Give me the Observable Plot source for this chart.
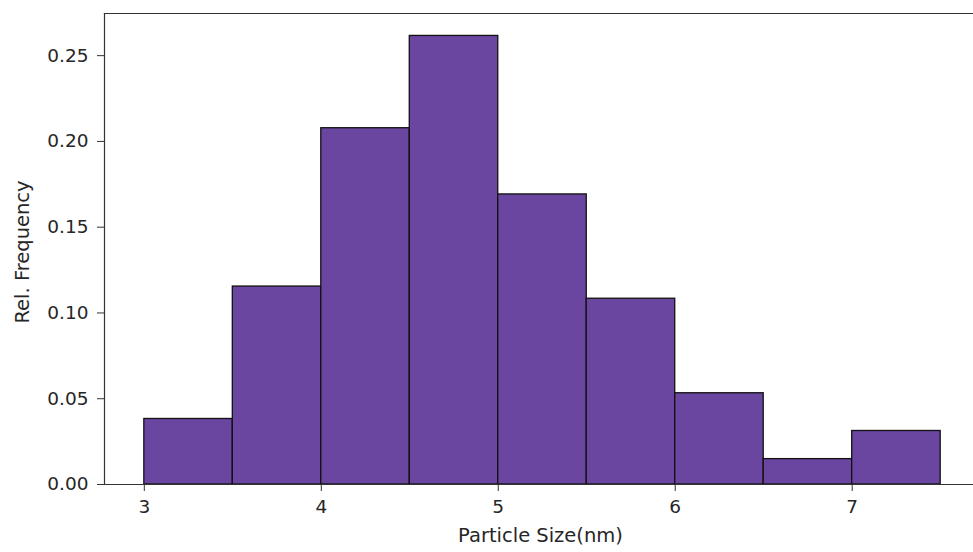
<!DOCTYPE html>
<html>
<head>
<meta charset="utf-8">
<script src="https://cdn.jsdelivr.net/npm/d3@7"></script>
<script src="https://cdn.jsdelivr.net/npm/@observablehq/plot@0.6"></script>
<style>
  html, body { margin: 0; padding: 0; background: #fff; overflow: hidden; }
  #chart svg { display: block; max-width: none !important; width: 980px; height: 552px; }
</style>
</head>
<body>
<div id="chart"></div>
<script>
const binStarts = [3.0, 3.5, 4.0, 4.5, 5.0, 5.5, 6.0, 6.5, 7.0];
const binWidth = 0.5;
const relFreq = [0.0382, 0.1154, 0.2077, 0.2615, 0.1691, 0.1083, 0.0532, 0.0148, 0.0312];
const xTicks = [3, 4, 5, 6, 7];
const yTicks = [0, 0.05, 0.10, 0.15, 0.20, 0.25];
const xLabel = "Particle Size(nm)";
const yLabel = "Rel. Frequency";

const bins = binStarts.map((s, i) => ({x1: s, x2: s + binWidth, y: relFreq[i]}));
const xMin = binStarts[0], xMax = binStarts[binStarts.length - 1] + binWidth;
const xPad = (xMax - xMin) * 0.05;
const yMax = d3.max(relFreq) * 1.05;

const spine = "#333";
const fs = 18.5;
const chart = Plot.plot({
  width: 980,
  height: 552,
  marginLeft: 104,
  marginRight: 0,
  marginTop: 13,
  marginBottom: 68,
  style: {fontFamily: "DejaVu Sans", fontSize: fs + "px", color: "#262626", background: "#fff", maxWidth: "none"},
  x: {domain: [xMin - xPad, xMax + xPad], ticks: xTicks, label: null},
  y: {domain: [0, yMax], ticks: yTicks, label: null},
  marks: [
    Plot.rectY(bins, {x1: "x1", x2: "x2", y: "y", fill: "#6b46a0", stroke: "#111", strokeWidth: 1.3}),
    Plot.axisX({ticks: xTicks, tickSize: 7, tickPadding: 8, tickFormat: d3.format("d"), fontSize: fs, label: null, stroke: spine}),
    Plot.axisY({ticks: yTicks, tickSize: 7, tickPadding: 9, tickFormat: d3.format(".2f"), fontSize: fs, label: null, stroke: spine}),
    Plot.frame({anchor: "left", stroke: spine, strokeWidth: 1.2}),
    Plot.frame({anchor: "top", stroke: spine, strokeWidth: 1.2}),
    Plot.frame({anchor: "bottom", stroke: spine, strokeWidth: 1.2}),
    Plot.text([xLabel], {frameAnchor: "bottom", dx: -2, dy: 57, text: d => d, fontSize: 19.5, fill: "#262626"}),
    Plot.text([yLabel], {frameAnchor: "left", textAnchor: "middle", dx: -82, dy: 3, rotate: -90, text: d => d, fontSize: 19.5, fill: "#262626"})
  ]
});
document.getElementById("chart").appendChild(chart);
</script>
</body>
</html>
